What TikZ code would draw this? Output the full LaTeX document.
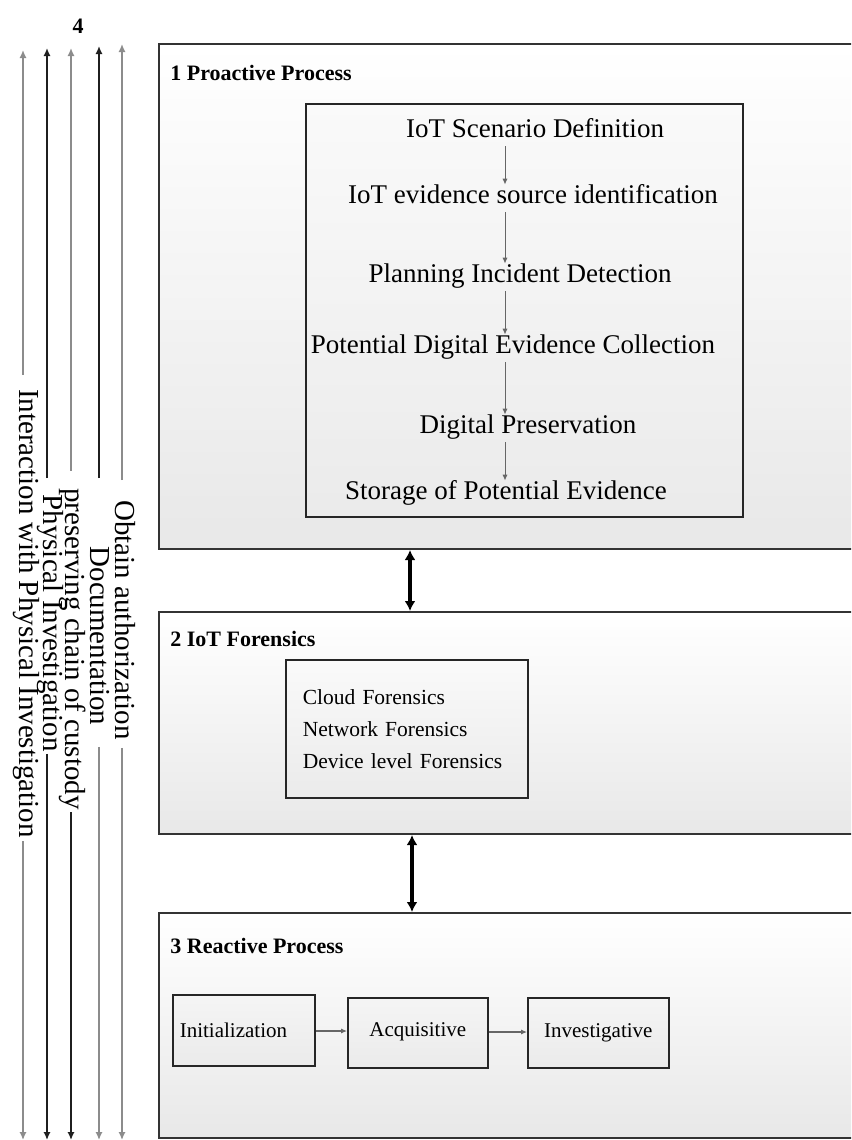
\documentclass[tikz,border=0pt]{standalone}
\usepackage{fontspec}
\setmainfont{Liberation Serif}
\usetikzlibrary{arrows.meta}

\begin{document}
\begin{tikzpicture}[x=0.5pt,y=-0.5pt,
  panel/.style={draw=black!80, line width=1pt, top color=white, bottom color=black!9,
    anchor=north west, inner sep=0pt, minimum width=361pt},
  inbox/.style={draw=black!85, line width=0.8pt, top color=black!2, bottom color=black!8,
    anchor=north west, inner sep=0pt},
  title/.style={anchor=base west, inner sep=0pt, font=\bfseries\fontsize{11}{13}\selectfont},
  steptext/.style={anchor=base, inner sep=2pt, text height=0.7em, text depth=0.25em,
    font=\fontsize{13.5}{16}\selectfont},
  flow/.style={draw=black!60, line width=0.5pt, -{Latex[length=3pt,width=2.6pt]}},
  dbl/.style={draw=black, line width=2pt, {Latex[length=5pt,width=5.5pt]}-{Latex[length=5pt,width=5.5pt]}},
  phase/.style={draw=black!85, line width=0.8pt, top color=black!4, bottom color=black!8,
    anchor=north west, font=\fontsize{10.5}{12.5}\selectfont},
  phaseflow/.style={draw=black!60, line width=0.6pt, -{Latex[length=3pt,width=2.6pt]}},
  sidelabel/.style={rotate=-90, inner sep=0pt, font=\fontsize{14.5}{17}\selectfont},
  sideline/.style={line width=0.9pt, -{Latex[length=4pt,width=3.6pt]}},
  lg/.style={draw=black!45},
  dk/.style={draw=black!88}
]
\useasboundingbox (0,0) rectangle (851,1140);
\clip (0,0) rectangle (851,1140);

% ---- three stacked process panels (running off the right edge)
\node[panel, minimum height=252.5pt] (p1) at (158,43) {};
\node[panel, minimum height=111pt]   (p2) at (158,611) {};
\node[panel, minimum height=112.5pt] (p3) at (158,912) {};

\node[title] (t1) at (170,80)  {1 Proactive Process};
\node[title] (t2) at (170,646) {2 IoT Forensics};
\node[title] (t3) at (170,953) {3 Reactive Process};

% ---- proactive steps
\node[inbox, minimum width=218.5pt, minimum height=206.5pt] (steps) at (305,103) {};
\node[steptext] (s1) at (535,137) {IoT Scenario Definition};
\node[steptext] (s2) at (533,203) {IoT evidence source identification};
\node[steptext] (s3) at (520,282) {Planning Incident Detection};
\node[steptext] (s4) at (513,353) {Potential Digital Evidence Collection};
\node[steptext] (s5) at (528,433) {Digital Preservation};
\node[steptext] (s6) at (506,499) {Storage of Potential Evidence};

\coordinate (sx) at (505,0);
\draw[flow] (s1.south -| sx) -- (s2.north -| sx);
\draw[flow] (s2.south -| sx) -- (s3.north -| sx);
\draw[flow] (s3.south -| sx) -- (s4.north -| sx);
\draw[flow] (s4.south -| sx) -- (s5.north -| sx);
\draw[flow] (s5.south -| sx) -- (s6.north -| sx);

% ---- IoT forensics areas
\node[inbox, minimum width=121pt, minimum height=69pt, text width=104pt, inner xsep=8.5pt,
  align=left, font=\fontsize{10.75}{16}\selectfont] (areas) at (285,659)
  {Cloud Forensics\\Network Forensics\\Device level Forensics};

% ---- reactive phases
\node[phase, minimum height=35.5pt, text width=64pt, inner xsep=3.5pt, align=left] (init) at (172,994) {Initialization};
\node[phase, minimum width=70pt, minimum height=35pt, inner sep=0pt] (acq) at (347,997) {\raisebox{3pt}{Acquisitive}};
\node[phase, minimum width=70.5pt, minimum height=35pt, inner sep=0pt] (inv) at (527,997) {Investigative};
\draw[phaseflow] (init.east |- 0,1031) -- (acq.west |- 0,1031);
\draw[phaseflow] (acq.east |- 0,1032) -- (inv.west |- 0,1032);

% ---- links between panels
\coordinate (ax1) at (410,0);
\coordinate (ax2) at (412,0);
\draw[dbl] (p1.south -| ax1) -- (p2.north -| ax1);
\draw[dbl] (p2.south -| ax2) -- (p3.north -| ax2);

% ---- activities running through all phases
\node[font=\bfseries\fontsize{11}{13}\selectfont, anchor=base] (four) at (78,33) {4};

\coordinate (top1) at (23,50);  \coordinate (bot1) at (23,1140);
\coordinate (top2) at (47,48);  \coordinate (bot2) at (47,1140);
\coordinate (top3) at (71,48);  \coordinate (bot3) at (71,1140);
\coordinate (top4) at (99,46);  \coordinate (bot4) at (99,1140);
\coordinate (top5) at (122,44); \coordinate (bot5) at (122,1140);

\node[sidelabel] (l1) at (26,613.5) {Interaction with Physical Investigation};
\node[sidelabel] (l2) at (50,623)   {Physical Investigation};
\node[sidelabel] (l3) at (73,649)   {preserving chain of custody};
\node[sidelabel] (l4) at (100,636)  {Documentation};
\node[sidelabel] (l5) at (125,620)  {Obtain authorization};

\draw[sideline, lg, shorten <=7pt]    (l1.west -| top1) -- (top1);
\draw[sideline, lg, shorten <=1.5pt]  (l1.east -| bot1) -- (bot1);
\draw[sideline, dk, shorten <=8pt]    (l2.west -| top2) -- (top2);
\draw[sideline, dk, shorten <=1pt]    (l2.east -| bot2) -- (bot2);
\draw[sideline, lg, shorten <=8.5pt]  (l3.west -| top3) -- (top3);
\draw[sideline, dk, shorten <=1pt]    (l3.east -| bot3) -- (bot3);
\draw[sideline, dk, shorten <=34pt]   (l4.west -| top4) -- (top4);
\draw[sideline, lg, shorten <=10.5pt] (l4.east -| bot4) -- (bot4);
\draw[sideline, lg, shorten <=10pt]   (l5.west -| top5) -- (top5);
\draw[sideline, lg, shorten <=4pt]    (l5.east -| bot5) -- (bot5);
\end{tikzpicture}
\end{document}
